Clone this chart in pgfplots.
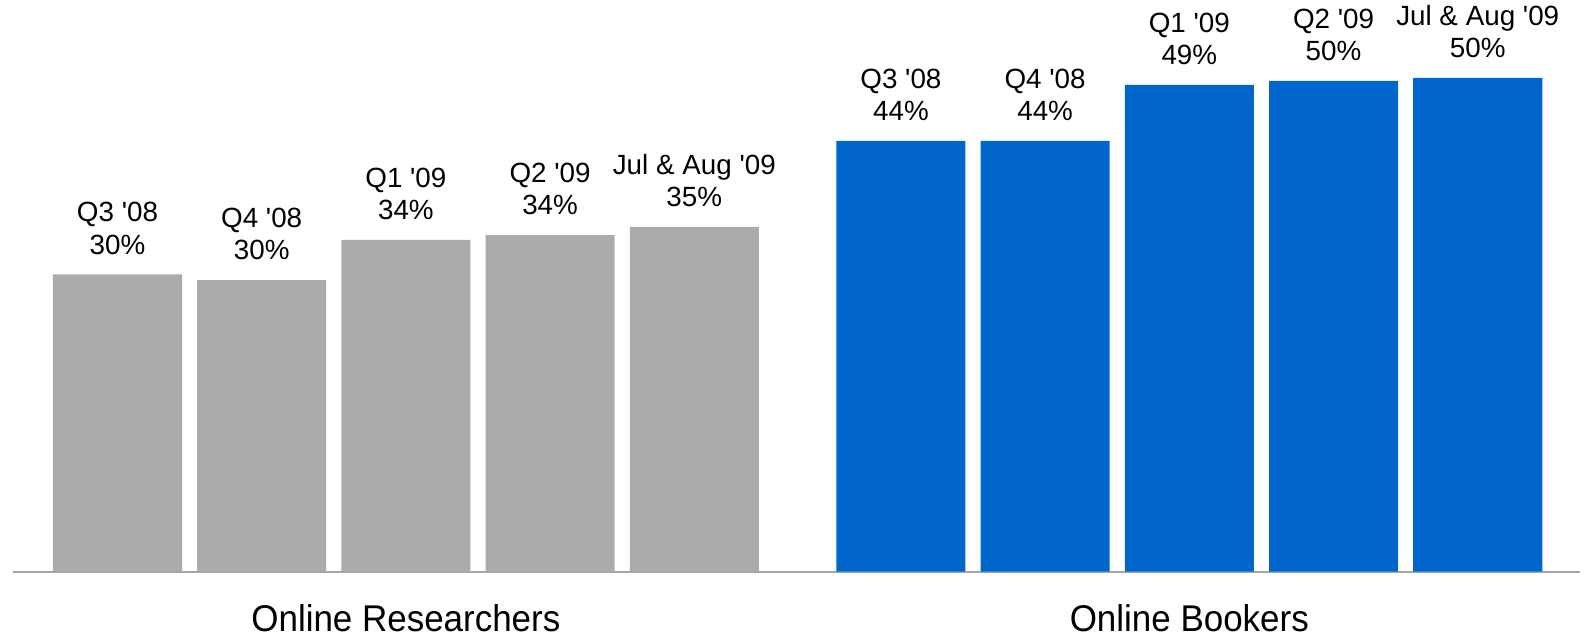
\documentclass[border=0pt]{standalone}
\usepackage{fontspec}
\setmainfont{Liberation Sans}[Ligatures=TeXOff]
\usepackage{pgfplots}
\pgfplotsset{compat=1.18}
\usepackage{graphicx}
\definecolor{barGray}{HTML}{ABABAB}
\definecolor{barBlue}{HTML}{0066CC}
\definecolor{axGray}{HTML}{A6A6A6}
\begin{document}
\begin{tikzpicture}
\begin{axis}[
  scale only axis, width=792.5pt, height=318.5pt,
  xmin=-0.8148, xmax=10.177, ymin=-6.63, ymax=58.04,
  hide axis, clip=false,
  ybar, bar width=0.895,
  point meta=explicit symbolic,
  nodes near coords={\pgfplotspointmeta},
  every node near coord/.append style={anchor=south, inner sep=0pt, yshift=9.7pt, align=center, font=\fontsize{13.9}{16.3}\selectfont, text=black},
]
\draw[axGray, line width=1pt] (axis cs:-0.726,0) -- (axis cs:10.142,0);
\addplot[fill=barGray, draw=none, bar shift=0pt] coordinates {
 (0,30.19) [{Q3 '08\\30\%}]
 (1,29.61) [{Q4 '08\\30\%}]
 (2,33.68) [{Q1 '09\\34\%}]
 (3,34.18) [{Q2 '09\\34\%}]
 (4,35.00) [{Jul \& Aug '09\\35\%}]
};
\addplot[fill=barBlue, draw=none, bar shift=0pt] coordinates {
 (5.433,43.73) [{Q3 '08\\44\%}]
 (6.433,43.73) [{Q4 '08\\44\%}]
 (7.433,49.41) [{Q1 '09\\49\%}]
 (8.433,49.82) [{Q2 '09\\50\%}]
 (9.433,50.12) [{Jul \& Aug '09\\50\%}]
};
\node[anchor=base, inner sep=0pt] at (axis cs:2,-6.08) {\scalebox{0.94}[1]{\fontsize{18.6}{20}\selectfont Online Researchers}};
\node[anchor=base, inner sep=0pt] at (axis cs:7.433,-6.08) {\scalebox{0.94}[1]{\fontsize{18.6}{20}\selectfont Online Bookers}};
\end{axis}
\path (current axis.south west) rectangle (current axis.north east);
\end{tikzpicture}
\end{document}
